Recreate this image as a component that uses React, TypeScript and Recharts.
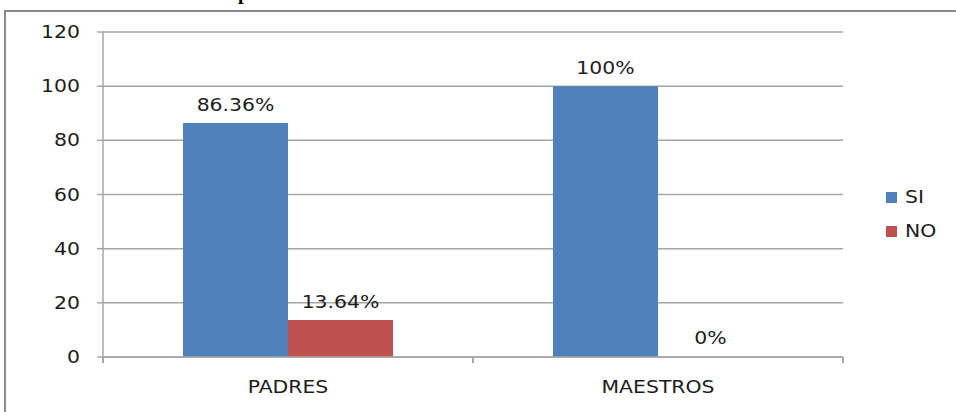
import React from 'react'
import { BarChart, Bar, XAxis, YAxis, CartesianGrid, Legend, LabelList, Rectangle } from 'recharts'

const categories = ['PADRES', 'MAESTROS']
const siValues = [86.36, 100]
const noValues = [13.64, 0]
const yTicks = [0, 20, 40, 60, 80, 100, 120]
const seriesNames = ['SI', 'NO']
const seriesColors = ['#4f81bd', '#c0504d']

const data = categories.map((c, i) => ({ name: c, SI: siValues[i], NO: noValues[i] }))

const FONT = '"DejaVu Sans", Verdana, sans-serif'
const TXT = '#1c1c1c'
const GRID = '#a6a6a6'
const STRETCH = 1.2

const YTick = (props: any) => {
  const { x, y, payload } = props
  return (
    <g transform={`translate(${x},${y}) scale(${STRETCH},1)`}>
      <text x={0} y={0} dy="0.36em" textAnchor="end" fontSize={17} fontFamily={FONT} fill={TXT}>{payload.value}</text>
    </g>
  )
}

const XTick = (props: any) => {
  const { x, y, payload, index, visibleTicksCount, width } = props
  const band = width / visibleTicksCount
  const left = x - band / 2
  return (
    <g>
      <line x1={left} x2={left} y1={y} y2={y + 6} stroke={GRID} strokeWidth={2} />
      {index === visibleTicksCount - 1 && <line x1={x + band / 2} x2={x + band / 2} y1={y} y2={y + 6} stroke={GRID} strokeWidth={2} />}
      <g transform={`translate(${x},${y + 36}) scale(${STRETCH},1)`}>
        <text x={0} y={0} textAnchor="middle" fontSize={17} fontFamily={FONT} fill={TXT}>{payload.value}</text>
      </g>
    </g>
  )
}

const ValueLabel = (props: any) => {
  const { x, y, width, value } = props
  const cx = x + width / 2
  return (
    <g transform={`translate(${cx},${y - 12}) scale(${STRETCH},1)`}>
      <text x={0} y={0} textAnchor="middle" fontSize={17} fontFamily={FONT} fill={TXT}>{`${value}%`}</text>
    </g>
  )
}

// zero-value bars get a 1px stub so their label shows, but the stub itself is not drawn
const HideZero = (props: any) => {
  const v = Array.isArray(props.value) ? props.value[1] - props.value[0] : props.value
  if (Number(v) === 0) return <g />
  return <Rectangle {...props} />
}

const LegendBox = () => (
  <div style={{ fontFamily: FONT, fontSize: 17, color: TXT }}>
    {seriesNames.map((s, i) => (
      <div key={s} style={{ display: 'flex', alignItems: 'center', height: 34 }}>
        <span style={{ display: 'inline-block', width: 11, height: 11, background: seriesColors[i], marginRight: 8 }} />
        <span style={{ display: 'inline-block', transform: `scale(${STRETCH},1)`, transformOrigin: 'left center' }}>{s}</span>
      </div>
    ))}
  </div>
)

export default function App() {
  return (
    <div style={{ position: 'absolute', left: 0, top: 0, width: 956, height: 412, overflow: 'hidden', background: '#fff' }}>
      <div style={{ position: 'absolute', left: 238, top: -18, fontFamily: '"Liberation Serif", serif', fontWeight: 'bold', fontSize: 20, lineHeight: '20px' }}>p</div>
      <div style={{ position: 'absolute', left: 4, top: 10, width: 980, height: 440, borderLeft: '2px solid #8a8a8a', borderTop: '2px solid #8a8a8a' }} />
      <div style={{ position: 'absolute', left: 0, top: 0 }}>
        <BarChart width={956} height={412} data={data} margin={{ top: 32, right: 43, left: 43, bottom: 25 }} barCategoryGap={80} barGap={0}>
          <CartesianGrid horizontal vertical={false} stroke={GRID} strokeWidth={1.5} />
          <XAxis dataKey="name" tickLine={false} tickSize={0} tickMargin={0} height={30} axisLine={{ stroke: GRID, strokeWidth: 1.5 }} tick={<XTick />} interval={0} />
          <YAxis domain={[0, 120]} ticks={yTicks} width={60} tickSize={6} tickMargin={17} tickLine={{ stroke: GRID, strokeWidth: 1.5 }} axisLine={{ stroke: GRID, strokeWidth: 1.5 }} tick={<YTick />} />
          <Legend layout="vertical" verticalAlign="top" align="right" content={<LegendBox />} wrapperStyle={{ position: 'absolute', left: 886, top: 180, width: 70 }} />
          <Bar dataKey="SI" name="SI" fill={seriesColors[0]} isAnimationActive={false}>
            <LabelList dataKey="SI" content={<ValueLabel />} />
          </Bar>
          <Bar dataKey="NO" name="NO" fill={seriesColors[1]} isAnimationActive={false} minPointSize={1} shape={<HideZero />}>
            <LabelList dataKey="NO" content={<ValueLabel />} />
          </Bar>
        </BarChart>
      </div>
    </div>
  )
}
